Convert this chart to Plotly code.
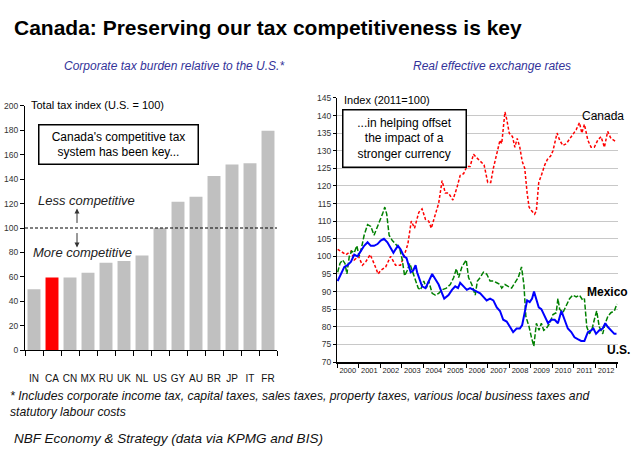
import plotly.graph_objects as go

# ---------------- data ----------------
countries = ["IN", "CA", "CN", "MX", "RU", "UK", "NL", "US", "GY", "AU", "BR", "JP", "IT", "FR"]
tax_index = [50, 59.5, 59.5, 63.5, 71.5, 73, 77.5, 100, 121.5, 125.5, 142.5, 152, 153, 179.5]

can_x = [2000.03, 2000.26, 2000.42, 2000.65, 2000.80, 2001.00, 2001.18, 2001.34, 2001.54, 2001.72,
         2001.91, 2002.03, 2002.26, 2002.49, 2002.72, 2002.95, 2003.11, 2003.29, 2003.45, 2003.60,
         2003.80, 2003.95, 2004.11, 2004.26, 2004.38, 2004.57, 2004.72, 2004.88, 2005.03, 2005.18,
         2005.38, 2005.57, 2005.72, 2005.88, 2006.03, 2006.18, 2006.34, 2006.49, 2006.68, 2006.83,
         2007.00, 2007.14, 2007.26, 2007.42, 2007.57, 2007.65, 2007.80, 2007.88, 2008.00, 2008.15,
         2008.26, 2008.37, 2008.49, 2008.60, 2008.72, 2008.83, 2008.92, 2009.03, 2009.18, 2009.26,
         2009.37, 2009.49, 2009.65, 2009.77, 2009.92, 2010.03, 2010.22, 2010.34, 2010.49, 2010.65,
         2010.88, 2011.11, 2011.26, 2011.37, 2011.49, 2011.65, 2011.80, 2011.95, 2012.11, 2012.26,
         2012.42, 2012.57, 2012.72, 2012.88, 2012.98]
can_y = [102, 101, 100.5, 101.5, 99, 100, 97.5, 98.5, 100.5, 98,
         95, 96, 97, 100, 97.5, 97.5, 100, 103.5, 110, 108,
         112.5, 113.5, 110.5, 110, 108, 112, 115, 121.5, 118, 118,
         116, 119.5, 123, 123.5, 125.5, 125.5, 129, 128, 127, 126,
         121, 121, 125, 129, 133, 132, 141, 139, 135, 134,
         131, 133.5, 131, 127, 125, 118, 114, 113, 112, 113,
         121, 123, 126, 127.5, 128.5, 130, 135, 133, 131.5, 132,
         134, 136, 138, 135, 137.5, 133, 131, 131, 133, 134,
         131, 135.5, 133.5, 133, 132.5]

mex_x = [2000.03, 2000.14, 2000.26, 2000.37, 2000.46, 2000.57, 2000.68, 2000.80, 2000.92, 2001.03,
         2001.14, 2001.26, 2001.42, 2001.57, 2001.72, 2001.85, 2002.00, 2002.11, 2002.22, 2002.31,
         2002.42, 2002.57, 2002.72, 2002.92, 2003.03, 2003.14, 2003.26, 2003.38, 2003.49, 2003.65,
         2003.77, 2003.88, 2004.03, 2004.15, 2004.26, 2004.42, 2004.57, 2004.72, 2004.88, 2005.08,
         2005.26, 2005.42, 2005.54, 2005.65, 2005.80, 2006.00, 2006.11, 2006.26, 2006.42, 2006.52,
         2006.65, 2006.80, 2006.95, 2007.11, 2007.26, 2007.42, 2007.57, 2007.65, 2007.80, 2007.95,
         2008.11, 2008.26, 2008.42, 2008.57, 2008.68, 2008.77, 2008.92, 2009.03, 2009.14, 2009.26,
         2009.38, 2009.49, 2009.60, 2009.72, 2009.88, 2010.03, 2010.18, 2010.26, 2010.34, 2010.49,
         2010.65, 2010.80, 2010.95, 2011.11, 2011.26, 2011.42, 2011.49, 2011.60, 2011.72, 2011.85,
         2011.95, 2012.06, 2012.18, 2012.34, 2012.46, 2012.58, 2012.72, 2012.88, 2013.00]
mex_y = [95.5, 98, 99, 98, 95, 100, 101.5, 101, 103, 100,
         102.5, 106, 109, 108.5, 106, 108, 110, 112, 114, 112,
         106, 104.5, 103.5, 102, 99, 94.5, 96, 98, 96, 93,
         91, 90.5, 93, 91, 93, 89.5, 89, 89.5, 90.5, 91,
         92, 94, 96.5, 94, 97, 99, 94, 92, 89, 93,
         94, 95.5, 95, 93, 93, 92.5, 92, 91, 92, 91.5,
         91, 92.5, 94, 97, 92, 83, 80, 77, 74.5, 81,
         79, 81, 79, 79.5, 81, 83.5, 84, 88, 85, 84,
         86, 88, 89, 88.5, 89, 87.5, 88, 80, 78, 79.5,
         82, 84.5, 80, 78, 81, 83, 84, 84.5, 86.5]

us_x = [2000.03, 2000.18, 2000.34, 2000.49, 2000.65, 2000.80, 2000.95, 2001.11, 2001.26, 2001.42,
        2001.57, 2001.72, 2001.88, 2002.03, 2002.18, 2002.34, 2002.49, 2002.62, 2002.72, 2002.83,
        2002.95, 2003.11, 2003.23, 2003.34, 2003.42, 2003.54, 2003.65, 2003.72, 2003.85, 2003.95,
        2004.11, 2004.26, 2004.42, 2004.57, 2004.72, 2004.88, 2004.98, 2005.18, 2005.34, 2005.49,
        2005.62, 2005.72, 2005.88, 2006.03, 2006.18, 2006.34, 2006.49, 2006.65, 2006.80, 2006.95,
        2007.11, 2007.26, 2007.42, 2007.57, 2007.72, 2007.88, 2008.03, 2008.18, 2008.34, 2008.49,
        2008.60, 2008.72, 2008.83, 2008.95, 2009.06, 2009.15, 2009.26, 2009.37, 2009.49, 2009.65,
        2009.80, 2009.95, 2010.11, 2010.26, 2010.42, 2010.57, 2010.72, 2010.88, 2011.03, 2011.18,
        2011.34, 2011.49, 2011.65, 2011.80, 2011.91, 2012.03, 2012.18, 2012.34, 2012.46, 2012.57,
        2012.72, 2012.88, 2012.98]
us_y = [93, 95, 97, 97.5, 98.5, 100.5, 100, 101.5, 103, 104,
        103, 103, 103.5, 104.5, 105, 104, 102.5, 101, 102, 103,
        102, 100, 99.5, 97, 95.5, 96, 97.5, 95.5, 93, 91.5,
        91, 93, 95, 93.5, 92, 89.5, 88, 89, 90.5, 91.5,
        91, 92.5, 91.5, 90.5, 91, 90.5, 90, 89.5, 88.5, 87.5,
        88, 87.5, 85.5, 84.5, 82, 81.5, 80, 78.5, 79.5, 79.5,
        80.5, 84, 87.5, 87, 88, 90, 88, 85.5, 85, 83,
        81, 82, 82, 81, 84.5, 82, 79.5, 78.5, 77, 76.5,
        76, 76, 78.5, 79, 79.5, 78, 79, 79.5, 81, 80,
        79, 78, 78]

years = list(range(2000, 2013))
year_labels = [str(y) for y in years]

# ---------------- figure ----------------
W, H = 634, 457
def px(x):
    return x / W
def py(y):
    return 1 - y / H

SANS = "Liberation Sans, Arial, sans-serif"

bar_colors = ["#ff0000" if c == "CA" else "#c0c0c0" for c in countries]

fig = go.Figure()
fig.add_trace(go.Bar(x=countries, y=tax_index, marker=dict(color=bar_colors, line=dict(width=0)),
                     xaxis="x", yaxis="y", showlegend=False, hoverinfo="x+y"))
fig.add_trace(go.Scatter(x=can_x, y=can_y, mode="lines", line=dict(color="#ff0000", width=1.5, dash="3px,2px"),
                         xaxis="x2", yaxis="y2", name="Canada", showlegend=False))
fig.add_trace(go.Scatter(x=mex_x, y=mex_y, mode="lines", line=dict(color="#008000", width=1.5, dash="5px,2px"),
                         xaxis="x2", yaxis="y2", name="Mexico", showlegend=False))
fig.add_trace(go.Scatter(x=us_x, y=us_y, mode="lines", line=dict(color="#0000ff", width=2),
                         xaxis="x2", yaxis="y2", name="U.S.", showlegend=False))

tickfont = dict(family=SANS, size=8.5, color="#333333")

fig.update_layout(
    width=W, height=H, margin=dict(l=0, r=0, t=0, b=0),
    paper_bgcolor="white", plot_bgcolor="white",
    bargap=0.28,
    xaxis=dict(domain=[px(25), px(277)], type="category", range=[-0.5, 13.5],
               showline=True, linecolor="black", linewidth=1, ticks="outside", ticklen=5,
               tickcolor="black", tickson="boundaries", ticklabelstandoff=19, tickangle=0,
               tickfont=dict(family=SANS, size=10, color="#111111"), showgrid=False, fixedrange=True),
    yaxis=dict(domain=[py(353), py(103)], range=[0, 200], dtick=20, showline=True, linecolor="black",
               linewidth=1, ticks="outside", ticklen=4, tickcolor="black", showgrid=False,
               zeroline=False, tickfont=tickfont, anchor="x"),
    xaxis2=dict(domain=[px(337), px(618)], range=[2000, 2013.05], anchor="y2",
                tickmode="array", tickvals=[y + 0.5 for y in years], ticktext=year_labels,
                ticks="", showline=True, linecolor="black", linewidth=1.5, showgrid=False, zeroline=False,
                tickangle=0, tickfont=dict(family=SANS, size=7.5, color="#222222"),
                minor=dict(ticks="outside", ticklen=4, tickcolor="black", dtick=1, tick0=2000, showgrid=False)),
    yaxis2=dict(domain=[py(365), py(95)], range=[70, 145], dtick=5, anchor="x2",
                showline=True, linecolor="black", linewidth=1, ticks="outside", ticklen=3, tickcolor="black",
                showgrid=True, gridcolor="#c8c8c8", gridwidth=1, zeroline=False, tickfont=tickfont),
)

annotations = [
    dict(text="<b>Canada: Preserving our tax competitiveness is key</b>", x=px(12), y=py(23),
         xanchor="left", yanchor="middle", font=dict(family=SANS, size=21, color="black")),
    dict(text="<i>Corporate tax burden relative to the U.S.*</i>", x=px(174), y=py(62),
         xanchor="center", yanchor="middle", font=dict(family=SANS, size=12, color="#333399")),
    dict(text="<i>Real effective exchange rates</i>", x=px(492), y=py(62),
         xanchor="center", yanchor="middle", font=dict(family=SANS, size=12, color="#333399")),
    dict(text="Total tax index (U.S. = 100)", x=px(29), y=py(102), xanchor="left", yanchor="middle",
         font=dict(family=SANS, size=11, color="black")),
    dict(text="Canada's competitive tax<br>system has been key...", x=px(118.5), y=py(143),
         xanchor="center", yanchor="middle", width=156, height=36, bordercolor="black", borderwidth=1.5,
         borderpad=1, bgcolor="white", font=dict(family=SANS, size=12, color="black")),
    dict(text="<i>Less competitive</i>", x=px(36), y=py(200), xanchor="left", yanchor="middle",
         font=dict(family=SANS, size=13, color="#222222")),
    dict(text="<i>More competitive</i>", x=px(31), y=py(253), xanchor="left", yanchor="middle",
         font=dict(family=SANS, size=13, color="#222222")),
    dict(text="Index (2011=100)", x=px(342), y=py(97), xanchor="left", yanchor="middle",
         font=dict(family=SANS, size=11, color="black")),
    dict(text="...in helping offset<br>the impact of a<br>stronger currency", x=px(404.5), y=py(136),
         xanchor="center", yanchor="middle", width=120, height=54, bordercolor="black", borderwidth=1.5,
         borderpad=1, bgcolor="white", font=dict(family=SANS, size=12, color="black")),
    dict(text="Canada", x=px(603), y=py(113), xanchor="center", yanchor="middle",
         font=dict(family=SANS, size=12, color="black")),
    dict(text="<b>Mexico</b>", x=px(607), y=py(293), xanchor="center", yanchor="middle",
         font=dict(family=SANS, size=12, color="black")),
    dict(text="<b>U.S.</b>", x=px(618), y=py(353), xanchor="center", yanchor="middle",
         font=dict(family=SANS, size=12, color="black")),
    dict(text="<i>* Includes corporate income tax, capital taxes, sales taxes, property taxes, various local business taxes and<br>statutory labour costs</i>",
         x=px(8), y=py(408), xanchor="left", yanchor="middle", align="left",
         font=dict(family=SANS, size=12.2, color="#111111")),
    dict(text="<i>NBF Economy & Strategy (data via KPMG and BIS)</i>", x=px(12), y=py(443),
         xanchor="left", yanchor="middle", font=dict(family=SANS, size=13.5, color="#111111")),
]
for a in annotations:
    a.setdefault("xref", "paper")
    a.setdefault("yref", "paper")
    a.setdefault("showarrow", False)

# arrows (in left-chart data coordinates)
annotations.append(dict(xref="paper", yref="y", x=px(77), y=116, ax=0, ay=16, axref="pixel", ayref="pixel",
                        text="", showarrow=True, arrowhead=2, arrowsize=1, arrowwidth=1, arrowcolor="#333333"))
annotations.append(dict(xref="paper", yref="y", x=px(77), y=84, ax=0, ay=-16, axref="pixel", ayref="pixel",
                        text="", showarrow=True, arrowhead=2, arrowsize=1, arrowwidth=1, arrowcolor="#333333"))
fig.update_layout(annotations=annotations)

fig.add_shape(type="line", xref="x domain", yref="y", x0=0, x1=1, y0=100, y1=100,
              line=dict(color="black", width=1, dash="3px,2px"))

fig.write_html("out.html")
